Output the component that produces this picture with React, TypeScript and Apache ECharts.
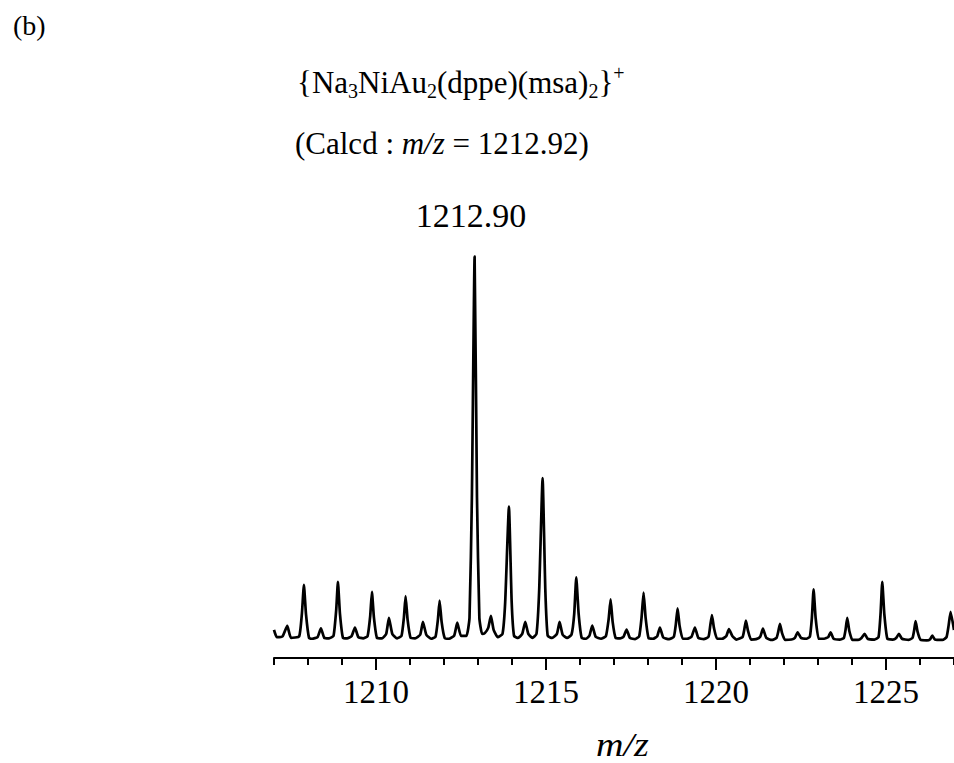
import React, { useEffect, useRef } from "react";
import * as echarts from "echarts";

// m/z positions of the profile points
const mzValues: number[] = [
  1207.0, 1207.08, 1207.25, 1207.39, 1207.5, 1207.74, 1207.82, 1207.88, 1207.94, 1208.03,
  1208.12, 1208.28, 1208.38, 1208.48, 1208.62, 1208.75, 1208.83, 1208.88, 1208.94, 1209.03,
  1209.15, 1209.28, 1209.38, 1209.48, 1209.62, 1209.75, 1209.83, 1209.88, 1209.94, 1210.03,
  1210.18, 1210.3, 1210.38, 1210.48, 1210.62, 1210.75, 1210.82, 1210.87, 1210.93, 1211.02,
  1211.15, 1211.3, 1211.38, 1211.48, 1211.62, 1211.75, 1211.82, 1211.87, 1211.93, 1212.02,
  1212.15, 1212.3, 1212.39, 1212.5, 1212.66, 1212.75, 1212.82, 1212.9, 1212.97, 1213.04,
  1213.12, 1213.2, 1213.3, 1213.38, 1213.46, 1213.58, 1213.72, 1213.8, 1213.91, 1213.99,
  1214.06, 1214.18, 1214.3, 1214.39, 1214.48, 1214.6, 1214.72, 1214.8, 1214.9, 1214.98,
  1215.05, 1215.18, 1215.32, 1215.4, 1215.49, 1215.62, 1215.75, 1215.83, 1215.89, 1215.96,
  1216.05, 1216.18, 1216.28, 1216.36, 1216.46, 1216.62, 1216.76, 1216.84, 1216.9, 1216.96,
  1217.05, 1217.18, 1217.28, 1217.37, 1217.47, 1217.62, 1217.74, 1217.81, 1217.87, 1217.93,
  1218.02, 1218.15, 1218.27, 1218.35, 1218.45, 1218.62, 1218.76, 1218.82, 1218.87, 1218.93,
  1219.02, 1219.15, 1219.28, 1219.38, 1219.48, 1219.64, 1219.78, 1219.83, 1219.88, 1219.94,
  1220.03, 1220.18, 1220.3, 1220.38, 1220.48, 1220.6, 1220.78, 1220.83, 1220.88, 1220.94,
  1221.03, 1221.18, 1221.3, 1221.38, 1221.48, 1221.64, 1221.78, 1221.83, 1221.88, 1221.94,
  1222.03, 1222.22, 1222.32, 1222.4, 1222.5, 1222.66, 1222.76, 1222.82, 1222.87, 1222.93,
  1223.02, 1223.18, 1223.3, 1223.37, 1223.46, 1223.64, 1223.76, 1223.81, 1223.86, 1223.92,
  1224.01, 1224.18, 1224.28, 1224.37, 1224.46, 1224.66, 1224.78, 1224.84, 1224.89, 1224.95,
  1225.04, 1225.2, 1225.3, 1225.38, 1225.47, 1225.66, 1225.78, 1225.83, 1225.87, 1225.93,
  1226.02, 1226.2, 1226.3, 1226.36, 1226.44, 1226.66, 1226.78, 1226.84, 1226.9, 1227.0,
];

// relative intensity at each point (main peak = 100)
const intensityValues: number[] = [
  7.0, 5.2, 5.4, 8.0, 5.0, 5.4, 11.0, 18.2, 11.0, 5.0,
  4.8, 5.2, 7.4, 5.0, 4.9, 5.5, 12.0, 19.0, 11.0, 5.0,
  4.9, 5.4, 7.6, 5.2, 4.9, 5.4, 10.5, 16.5, 10.0, 5.0,
  4.9, 6.0, 10.0, 6.0, 4.9, 5.5, 10.0, 15.4, 9.5, 5.0,
  4.9, 5.8, 9.0, 5.8, 4.8, 5.3, 9.5, 14.3, 9.0, 5.0,
  4.8, 5.6, 8.8, 5.5, 5.5, 10.0, 40.0, 100.0, 40.0, 10.0,
  6.0, 6.2, 7.5, 10.5, 7.0, 5.2, 6.0, 14.0, 37.7, 14.0,
  5.5, 5.0, 6.0, 9.0, 6.0, 5.0, 6.0, 17.0, 44.8, 17.0,
  5.5, 5.0, 6.0, 9.0, 5.8, 5.0, 5.8, 11.0, 20.1, 11.0,
  5.0, 4.8, 5.6, 8.1, 5.3, 4.8, 5.4, 9.5, 14.6, 9.0,
  5.0, 4.9, 5.3, 7.1, 5.0, 4.7, 5.4, 10.0, 16.3, 10.0,
  4.9, 4.8, 5.4, 7.6, 5.1, 4.7, 5.3, 8.5, 12.4, 8.0,
  4.8, 4.8, 5.3, 7.6, 5.0, 4.7, 5.3, 8.0, 10.7, 7.5,
  4.8, 4.8, 5.4, 7.2, 5.5, 4.6, 5.2, 7.0, 9.3, 6.8,
  4.6, 4.7, 5.3, 7.3, 5.0, 4.5, 5.0, 6.5, 8.5, 6.3,
  4.5, 4.6, 5.0, 6.4, 5.0, 4.8, 5.3, 10.0, 17.1, 10.0,
  4.8, 4.8, 5.2, 6.4, 4.8, 4.6, 5.0, 7.0, 10.0, 6.8,
  4.5, 4.5, 5.0, 6.0, 4.8, 4.6, 5.2, 11.0, 19.0, 11.0,
  4.8, 4.6, 5.0, 6.0, 4.8, 4.5, 5.0, 7.0, 9.2, 6.5,
  4.5, 4.4, 4.7, 5.6, 4.6, 4.5, 5.2, 8.0, 11.5, 7.0,
];

const majorTickValues: number[] = [1210, 1215, 1220, 1225];
const xMin = 1207;
const xMax = 1227;

const serif = "'Liberation Serif', 'Times New Roman', serif";

export default function App() {
  const ref = useRef<HTMLDivElement>(null);

  useEffect(() => {
    if (!ref.current) return;
    const chart = echarts.init(ref.current, null, { renderer: "svg" });
    const points = mzValues.map((m, i) => [m, intensityValues[i]]);

    const normStyle = { fontSize: 31, fontFamily: serif, color: "#000", verticalAlign: "middle", lineHeight: 38 };
    const subStyle = { fontSize: 20, fontFamily: serif, color: "#000", verticalAlign: "bottom", lineHeight: 20 };
    const supStyle = { fontSize: 20, fontFamily: serif, color: "#000", verticalAlign: "top", lineHeight: 20 };
    const itStyle = { fontSize: 31, fontFamily: serif, fontStyle: "italic", color: "#000", verticalAlign: "middle", lineHeight: 38 };

    chart.setOption({
      animation: false,
      backgroundColor: "#fff",
      grid: { left: 274, right: -2, top: 252.7, bottom: 105, containLabel: false },
      xAxis: [
        {
          type: "value",
          min: xMin,
          max: xMax,
          interval: 1,
          position: "bottom",
          axisLine: { show: true, onZero: false, lineStyle: { color: "#000", width: 2 } },
          axisTick: { show: true, inside: false, length: 7, lineStyle: { color: "#000", width: 2 } },
          axisLabel: { show: false },
          splitLine: { show: false },
        },
        {
          type: "value",
          min: xMin,
          max: xMax,
          position: "bottom",
          axisLine: { show: false, onZero: false },
          axisTick: { show: true, inside: false, length: 12, customValues: majorTickValues, lineStyle: { color: "#000", width: 2 } },
          axisLabel: {
            show: true,
            customValues: majorTickValues,
            formatter: (v: number) => String(v),
            margin: 17,
            fontFamily: serif,
            fontSize: 33,
            color: "#000",
          },
          splitLine: { show: false },
        },
      ],
      yAxis: { type: "value", min: 0, max: 101, show: false },
      series: [
        {
          type: "line",
          xAxisIndex: 0,
          data: points,
          showSymbol: false,
          symbol: "none",
          lineStyle: { color: "#000", width: 2.7, join: "round" },
          smooth: 0.15,
        },
      ],
      graphic: [
        {
          type: "text",
          x: 13,
          y: 25,
          style: { text: "(b)", font: `28px ${serif}`, fill: "#000", verticalAlign: "middle" },
        },
        {
          type: "text",
          x: 297,
          y: 82,
          style: {
            text: "{n|{Na}{s|3}{n|NiAu}{s|2}{n|(dppe)(msa)}{s|2}}{p|+}",
            rich: { n: normStyle, s: subStyle, p: supStyle },
            fontSize: 31,
            fontFamily: serif,
            lineHeight: 38,
            fill: "#000",
            verticalAlign: "middle",
          },
        },
        {
          type: "text",
          x: 295,
          y: 143,
          style: {
            text: "{n|(Calcd : }{i|m/z}{n| = 1212.92)}",
            rich: { n: normStyle, i: itStyle },
            fill: "#000",
            verticalAlign: "middle",
          },
        },
        {
          type: "text",
          x: 471,
          y: 215,
          style: { text: "1212.90", font: `34px ${serif}`, fill: "#000", align: "center", verticalAlign: "middle" },
        },
        {
          type: "text",
          x: 596,
          y: 745,
          scaleX: 1.12,
          style: { text: "m/z", font: `italic 34px ${serif}`, fill: "#000", align: "left", verticalAlign: "middle" },
        },
      ],
    });
    return () => chart.dispose();
  }, []);

  return (
    <div
      ref={ref}
      style={{ position: "fixed", left: 0, top: 0, width: 954, height: 763, background: "#fff" }}
    />
  );
}
